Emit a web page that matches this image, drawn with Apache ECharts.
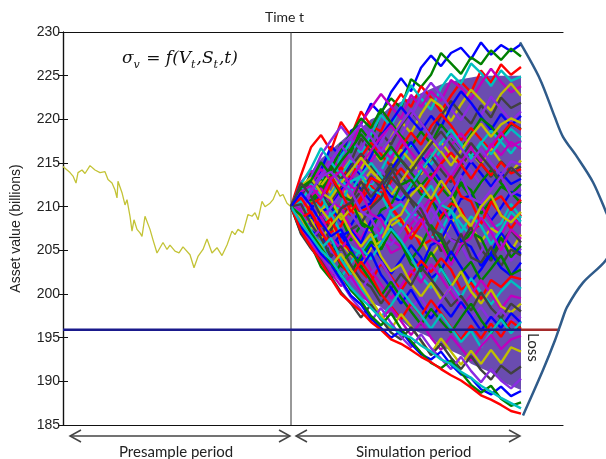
<!DOCTYPE html>
<html>
<head>
<meta charset="utf-8">
<script src="https://cdn.jsdelivr.net/npm/echarts@6/dist/echarts.min.js"></script>
<style>
  html, body { margin: 0; padding: 0; background: #fff; }
  #chart { width: 606px; height: 459px; }
</style>
</head>
<body>
<div id="chart"></div>
<script>
// presample path (yellow)
var presampleT = [0, 1, 7, 10, 13, 15, 19, 22, 27, 32, 37, 42, 45, 49, 52, 54, 55, 59, 62, 64, 67, 69, 71, 74, 77, 79, 82, 84, 87, 90, 94, 97, 100, 104, 107, 112, 116, 120, 127, 131, 135, 140, 144, 149, 154, 159, 164, 169, 172, 175, 180, 185, 189, 192, 195, 199, 202, 207, 210, 214, 217, 220, 224, 228];
var presampleV = [214.6, 214.8, 213.9, 213.5, 212.7, 213.9, 214.2, 213.8, 214.7, 214.2, 213.9, 214.0, 213.1, 212.7, 211.9, 211.0, 212.9, 211.6, 210.2, 210.8, 208.9, 207.2, 208.5, 207.4, 207.0, 206.6, 208.9, 208.7, 207.4, 206.2, 204.7, 205.3, 205.9, 205.1, 205.6, 204.9, 204.7, 205.4, 204.5, 203.0, 204.3, 205.1, 206.3, 204.7, 205.3, 204.4, 205.6, 207.2, 206.8, 207.4, 207.0, 209.1, 208.9, 209.3, 208.5, 210.6, 210.0, 210.4, 210.8, 211.9, 211.2, 211.4, 210.4, 210.0];

// simulation period time steps
var simT = [228, 238, 248, 258, 268, 278, 288, 298, 308, 318, 328, 338, 348, 358, 368, 378, 388, 398, 408, 418, 428, 438, 448, 458];

// dense core of the fan (inner edges)
var bandUpper = [210, 212, 214, 215.5, 216.5, 217.5, 218.5, 219, 220, 220.5, 221.5, 222, 222.5, 223, 223.5, 224, 224.3, 224.6, 224.8, 225, 225, 225, 225, 225];
var bandLower = [210, 207.5, 205.5, 204, 202.5, 201.5, 200.5, 199.5, 199, 198.5, 197.5, 197, 196, 195.5, 195, 194, 193.5, 193, 192, 191.5, 191, 190, 189.5, 189];

// simulated paths (values read/estimated from the fan)
var simPaths = [
  [210, 212.3, 211.6, 214.2, 216.9, 215.8, 218.7, 219.4, 221.8, 220.6, 223.1, 224.7, 223.2, 225.9, 227.3, 226.1, 227.6, 228.2, 226.9, 228.8, 227.4, 228.5, 227.8, 228.6],
  [210, 211.4, 213.8, 212.9, 214.1, 217.3, 216.2, 218.9, 217.5, 220.8, 222.4, 221.3, 224.6, 223.7, 225.1, 227.6, 226.4, 225.2, 227.1, 226.3, 227.9, 226.8, 228.1, 227.2],
  [210, 213.6, 216.8, 218.2, 216.4, 219.7, 218.1, 220.9, 219.3, 218.6, 221.2, 222.9, 221.4, 223.8, 222.5, 220.9, 222.7, 224.3, 223.1, 225.6, 224.2, 226.3, 225.1, 226.0],
  [210, 209.2, 211.7, 213.4, 212.6, 215.8, 217.4, 216.1, 218.3, 220.5, 219.2, 221.6, 223.9, 222.4, 221.1, 223.6, 225.2, 224.1, 226.4, 225.3, 223.8, 225.6, 224.4, 224.9],
  [210, 212.8, 214.1, 213.3, 215.6, 214.2, 216.9, 219.6, 221.3, 222.9, 221.5, 220.1, 222.8, 221.4, 223.2, 222.1, 224.5, 223.6, 222.3, 224.1, 225.8, 224.3, 223.1, 223.8],
  [210, 211.1, 210.4, 212.9, 211.5, 213.8, 215.4, 214.3, 216.7, 215.2, 217.9, 219.8, 218.4, 220.6, 222.3, 221.5, 219.8, 221.7, 223.4, 222.2, 221.0, 222.9, 224.1, 222.7],
  [210, 208.7, 210.9, 212.2, 214.7, 213.1, 215.2, 217.8, 216.3, 218.5, 217.1, 219.3, 220.9, 219.6, 218.2, 220.4, 222.1, 220.7, 219.5, 221.6, 220.2, 222.5, 221.3, 221.9],
  [210, 212.1, 213.4, 215.9, 217.6, 219.2, 217.7, 216.5, 218.9, 217.3, 219.6, 218.1, 220.3, 222.6, 224.2, 222.8, 221.1, 219.9, 221.8, 220.4, 222.6, 221.2, 219.8, 220.9],
  [210, 210.8, 212.6, 211.2, 213.7, 212.4, 214.9, 213.6, 215.8, 218.1, 219.7, 221.4, 220.0, 218.7, 220.4, 219.1, 221.5, 223.2, 221.9, 220.3, 218.8, 220.6, 219.3, 220.4],
  [210, 211.9, 210.7, 212.5, 214.3, 216.6, 218.4, 220.1, 219.0, 221.2, 219.6, 218.1, 216.9, 218.6, 217.2, 219.4, 218.0, 216.6, 218.3, 220.1, 219.2, 217.8, 219.5, 218.9],
  [210, 209.4, 211.3, 210.1, 212.8, 214.5, 213.2, 215.7, 217.3, 216.0, 214.6, 216.8, 218.5, 217.1, 219.2, 220.6, 219.3, 217.6, 219.0, 217.7, 216.4, 218.2, 219.6, 218.8],
  [210, 212.6, 214.4, 216.7, 215.1, 213.6, 215.3, 213.9, 212.4, 214.1, 216.3, 215.0, 217.2, 216.0, 214.8, 216.5, 218.1, 216.9, 215.4, 217.3, 218.7, 217.4, 216.1, 217.6],
  [210, 211.2, 209.9, 208.6, 210.4, 212.1, 211.0, 213.4, 215.2, 216.8, 215.5, 217.7, 216.2, 214.9, 216.6, 215.1, 217.0, 218.4, 216.8, 215.3, 217.2, 215.9, 217.4, 216.6],
  [210, 208.9, 210.6, 212.4, 213.9, 212.3, 210.8, 212.6, 214.1, 212.9, 214.7, 216.5, 215.2, 213.7, 215.6, 217.4, 215.9, 214.5, 216.2, 214.9, 216.7, 215.1, 213.9, 215.3],
  [210, 211.6, 213.2, 212.0, 210.7, 212.4, 214.6, 216.1, 214.7, 213.1, 214.9, 213.5, 212.2, 214.0, 215.8, 214.2, 212.8, 214.6, 216.3, 215.0, 213.4, 215.2, 214.0, 214.6],
  [210, 210.5, 212.0, 213.7, 215.3, 217.0, 215.6, 214.1, 212.7, 214.3, 212.6, 211.3, 213.1, 214.8, 213.4, 212.0, 213.9, 215.5, 214.1, 212.5, 214.3, 212.8, 214.5, 213.7],
  [210, 208.3, 209.7, 211.5, 210.1, 211.9, 213.3, 212.0, 210.6, 212.5, 214.2, 215.9, 217.4, 215.8, 214.5, 212.9, 211.6, 213.4, 215.2, 213.8, 212.3, 213.9, 212.6, 213.2],
  [210, 211.8, 210.3, 211.9, 213.5, 215.2, 216.6, 218.3, 216.9, 215.4, 216.9, 215.3, 213.9, 212.4, 213.8, 212.2, 210.9, 212.6, 211.1, 212.8, 214.2, 212.7, 211.4, 212.6],
  [210, 209.6, 208.2, 206.9, 208.5, 210.3, 209.0, 210.7, 212.4, 211.0, 212.9, 214.4, 213.0, 211.6, 213.3, 214.9, 216.2, 214.8, 213.2, 214.9, 213.6, 215.1, 213.8, 214.3],
  [210, 212.3, 211.0, 209.6, 211.4, 213.1, 211.7, 213.6, 215.0, 213.5, 212.1, 210.7, 212.5, 214.1, 215.7, 217.3, 218.8, 217.2, 215.7, 217.4, 216.0, 217.6, 218.9, 217.9],
  [210, 210.9, 212.7, 214.3, 213.0, 211.5, 213.2, 214.9, 216.4, 218.0, 219.3, 217.8, 216.2, 214.6, 213.1, 214.8, 213.3, 215.1, 216.7, 215.2, 216.9, 218.5, 216.9, 217.5],
  [210, 209.1, 210.8, 209.4, 211.0, 212.7, 214.1, 215.6, 214.2, 212.9, 211.3, 212.9, 214.6, 216.0, 217.6, 216.3, 214.7, 216.4, 218.1, 219.5, 218.0, 219.4, 220.1, 219.6],
  [210, 211.3, 212.9, 211.4, 209.9, 208.6, 210.3, 211.8, 213.5, 212.1, 213.8, 215.4, 214.0, 215.7, 217.2, 218.6, 217.1, 215.6, 217.3, 215.8, 214.4, 212.9, 214.5, 213.4],
  [210, 210.2, 211.8, 213.5, 215.1, 216.9, 218.1, 219.4, 217.9, 216.3, 217.8, 219.5, 221.1, 219.6, 218.0, 216.5, 218.2, 216.7, 215.1, 216.6, 215.0, 213.6, 215.2, 214.8],
  [210, 208.1, 207.6, 209.4, 210.0, 208.3, 207.9, 209.8, 210.4, 212.7, 211.2, 210.6, 211.9, 212.4, 210.8, 209.3, 208.7, 210.9, 211.3, 210.1, 208.4, 209.9, 211.7, 211.2],
  [210, 211.2, 210.7, 212.4, 210.3, 208.8, 206.1, 207.9, 207.3, 209.6, 210.2, 212.5, 213.1, 211.4, 210.9, 208.6, 210.1, 212.8, 211.9, 209.2, 210.7, 212.3, 211.6, 210.4],
  [210, 207.6, 206.9, 205.2, 207.1, 207.8, 210.2, 209.5, 210.0, 211.7, 210.1, 208.3, 207.6, 205.5, 206.2, 208.9, 210.4, 209.7, 207.2, 208.0, 210.6, 209.1, 207.5, 209.1],
  [210, 210.4, 212.6, 211.3, 209.0, 210.2, 212.9, 213.5, 212.0, 211.4, 209.2, 207.8, 209.3, 208.7, 206.4, 207.1, 209.6, 208.0, 206.6, 208.9, 207.4, 208.1, 210.3, 208.7],
  [210, 209.6, 211.3, 212.1, 210.5, 209.9, 207.6, 206.3, 208.5, 206.9, 204.7, 205.3, 208.0, 209.4, 211.1, 210.3, 208.1, 206.5, 207.2, 210.1, 208.3, 206.7, 208.9, 207.8],
  [210, 212.4, 213.3, 211.6, 210.9, 208.5, 209.8, 209.1, 206.9, 205.4, 207.8, 208.6, 207.0, 206.4, 204.3, 205.9, 208.2, 209.1, 207.7, 206.0, 207.5, 206.8, 204.9, 206.8],
  [210, 207.9, 208.6, 207.8, 206.2, 205.0, 207.4, 208.1, 209.9, 211.0, 213.4, 212.1, 210.5, 208.9, 207.6, 204.9, 206.3, 205.8, 207.7, 205.1, 203.8, 205.9, 207.3, 205.9],
  [210, 211.4, 209.1, 208.3, 209.9, 211.5, 209.2, 207.6, 206.9, 208.4, 210.1, 210.6, 209.3, 207.5, 209.8, 208.0, 206.2, 205.6, 203.4, 204.8, 207.2, 205.9, 203.8, 205.2],
  [210, 209.3, 207.2, 206.5, 204.2, 206.6, 207.3, 205.8, 208.4, 209.1, 207.6, 206.0, 204.4, 203.1, 205.6, 206.2, 208.4, 206.1, 205.4, 203.2, 204.7, 207.0, 205.5, 204.6],
  [210, 212.2, 213.0, 215.1, 213.6, 211.2, 210.7, 208.2, 207.5, 205.1, 207.4, 206.0, 203.9, 205.5, 207.9, 206.3, 203.8, 205.4, 207.1, 206.4, 204.0, 206.5, 204.2, 205.5],
  [210, 208.1, 210.3, 211.0, 213.4, 211.7, 209.4, 211.1, 213.3, 212.7, 209.9, 208.5, 206.3, 208.0, 210.4, 211.8, 213.5, 211.2, 210.6, 208.1, 210.5, 211.2, 209.6, 210.8],
  [210, 210.6, 208.3, 207.6, 209.2, 207.0, 205.4, 204.6, 206.3, 207.0, 209.5, 210.3, 208.8, 210.9, 212.4, 210.2, 209.6, 207.1, 208.9, 207.8, 205.7, 207.3, 209.4, 208.3],
  [210, 211.7, 212.4, 210.9, 213.2, 214.1, 212.3, 211.6, 209.2, 208.5, 206.2, 205.4, 207.0, 208.6, 206.3, 205.6, 203.3, 205.7, 206.4, 208.8, 207.1, 205.0, 207.4, 206.3],
  [210, 209.0, 207.4, 209.7, 208.2, 205.9, 204.5, 203.0, 205.3, 206.0, 208.4, 209.1, 211.3, 212.5, 210.9, 213.0, 211.4, 209.2, 207.8, 210.0, 211.3, 209.0, 208.2, 209.4],
  [210, 212.7, 211.2, 208.9, 207.3, 209.8, 210.5, 212.9, 211.1, 212.6, 214.5, 212.3, 210.8, 209.7, 207.4, 206.8, 204.5, 206.9, 204.2, 203.6, 205.4, 203.2, 205.1, 204.4],
  [210, 209.5, 211.8, 213.4, 214.0, 212.6, 211.8, 209.5, 208.7, 206.3, 205.6, 207.2, 208.9, 210.4, 208.1, 210.3, 211.2, 213.6, 211.0, 210.4, 211.9, 213.5, 211.3, 212.0],
  [210, 208.4, 209.1, 206.8, 205.3, 206.9, 204.6, 203.8, 205.7, 204.1, 202.3, 203.9, 205.6, 204.2, 201.8, 202.7, 204.9, 203.1, 201.4, 202.8, 204.6, 203.0, 202.1, 203.6],
  [210, 207.4, 206.1, 204.0, 205.6, 203.2, 202.5, 204.3, 206.0, 205.1, 207.3, 205.8, 203.4, 202.6, 204.8, 203.0, 200.9, 202.4, 203.7, 201.5, 202.9, 204.4, 202.2, 202.8],
  [210, 211.0, 209.3, 207.7, 208.6, 206.0, 204.9, 202.6, 201.4, 203.5, 202.0, 200.4, 202.2, 203.8, 202.5, 204.1, 202.8, 200.5, 201.3, 199.4, 201.6, 200.8, 202.0, 201.7],
  [210, 208.9, 206.7, 205.9, 203.4, 201.9, 203.6, 205.2, 204.0, 205.8, 207.5, 206.1, 204.3, 202.0, 200.7, 202.9, 201.1, 199.6, 201.8, 200.2, 198.8, 200.3, 201.5, 200.6],
  [210, 209.5, 207.8, 208.9, 206.5, 205.1, 206.8, 205.0, 202.7, 201.1, 199.5, 200.9, 202.7, 201.3, 203.4, 201.9, 200.1, 198.4, 199.9, 201.6, 200.0, 198.3, 199.8, 199.5],
  [210, 207.8, 208.5, 206.3, 207.9, 209.2, 207.0, 205.4, 206.9, 204.3, 202.6, 203.4, 201.2, 199.7, 201.3, 199.4, 200.8, 202.6, 200.3, 198.9, 200.5, 198.6, 197.9, 198.9],
  [210, 210.3, 208.0, 206.4, 204.3, 205.5, 203.3, 201.6, 200.8, 198.9, 200.6, 202.3, 201.0, 203.1, 201.7, 200.2, 198.6, 199.8, 198.1, 200.2, 198.4, 197.2, 198.9, 198.0],
  [210, 208.0, 206.3, 207.5, 205.0, 203.8, 201.6, 200.3, 202.4, 203.7, 201.8, 199.9, 198.4, 199.6, 197.7, 199.2, 200.9, 199.1, 197.3, 198.5, 196.8, 198.2, 196.9, 197.4],
  [210, 211.6, 210.1, 208.2, 206.6, 207.4, 205.1, 203.0, 204.7, 202.2, 200.7, 198.9, 200.5, 198.6, 197.2, 198.8, 197.4, 199.1, 197.5, 195.8, 197.4, 196.1, 197.8, 196.7],
  [210, 207.0, 205.6, 203.1, 201.7, 203.5, 204.8, 203.2, 201.5, 199.8, 201.4, 199.6, 198.0, 196.5, 198.3, 196.9, 195.6, 197.3, 198.9, 197.0, 195.5, 197.2, 195.8, 196.2],
  [210, 208.7, 209.4, 207.1, 205.4, 203.5, 201.9, 203.7, 202.1, 200.0, 198.6, 197.1, 198.9, 197.5, 199.3, 197.8, 196.2, 194.8, 196.4, 194.9, 196.6, 195.1, 196.9, 196.0],
  [210, 209.1, 207.3, 205.2, 206.4, 204.0, 202.2, 200.6, 198.8, 197.4, 198.7, 200.5, 199.0, 197.6, 196.0, 197.7, 196.1, 194.5, 195.8, 193.9, 195.6, 197.1, 195.5, 196.8],
  [210, 207.3, 205.8, 204.1, 202.4, 200.9, 202.1, 200.2, 198.7, 197.0, 198.4, 196.9, 195.3, 196.8, 195.0, 193.6, 195.2, 193.8, 192.4, 194.0, 195.3, 193.7, 194.8, 195.2],
  [210, 208.6, 206.9, 205.5, 203.2, 204.6, 202.8, 201.1, 199.3, 197.6, 196.0, 197.7, 196.3, 194.6, 193.2, 194.9, 193.4, 191.9, 193.5, 192.0, 193.6, 192.1, 193.9, 193.4],
  [210, 206.9, 205.2, 203.8, 202.0, 200.2, 198.9, 197.3, 198.8, 197.1, 195.6, 194.8, 196.2, 194.7, 193.0, 194.3, 192.7, 191.4, 192.9, 191.3, 190.2, 191.8, 190.9, 191.7],
  [210, 208.2, 206.1, 204.5, 202.8, 201.4, 199.6, 198.2, 196.9, 198.4, 196.7, 195.1, 193.9, 195.4, 193.8, 192.6, 191.4, 192.8, 191.2, 189.9, 191.4, 190.1, 189.2, 190.3],
  [210, 207.7, 206.3, 204.6, 203.4, 201.6, 199.8, 198.8, 197.2, 196.1, 195.0, 195.8, 194.3, 193.1, 192.5, 193.4, 191.9, 190.8, 190.4, 189.1, 188.5, 189.4, 188.3, 188.9],
  [210, 209.0, 207.0, 205.3, 203.6, 202.3, 200.4, 199.2, 197.5, 196.4, 197.8, 196.0, 194.6, 193.3, 192.1, 191.5, 192.4, 191.0, 189.6, 188.7, 189.5, 188.0, 187.2, 187.6],
  [210, 207.2, 205.4, 203.6, 201.8, 200.0, 199.0, 198.0, 196.8, 195.9, 194.8, 194.3, 193.6, 192.8, 192.2, 191.4, 190.7, 190.1, 189.3, 188.4, 187.9, 187.3, 186.6, 186.3],
  [210, 208.1, 206.6, 205.0, 203.9, 202.2, 200.7, 199.5, 198.4, 197.2, 196.3, 195.4, 195.0, 194.1, 193.4, 192.5, 192.0, 191.1, 190.4, 189.5, 188.8, 188.1, 187.5, 186.9]
];
var pathColors = ['#0000ff', '#008000', '#ff0000', '#00bfbf', '#bf00bf', '#bfbf00', '#404040', '#8a2be2'];

// loss distribution curve drawn sideways at the horizon
var curveT = [457, 477, 492, 500, 514, 530, 543, 553, 543, 520, 504, 499, 492, 480, 460];
var curveV = [228.8, 224.6, 220.2, 218.0, 215.7, 212.8, 209.4, 206.6, 203.9, 201.3, 198.5, 197.0, 194.7, 191.3, 186.1];

var lossLevel = 195.9;
var splitT = 228;
var horizonT = 458;
var lossEndT = 497;

function zip(xs, ys) {
    var out = [];
    for (var i = 0; i < xs.length; i++) out.push([xs[i], ys[i]]);
    return out;
}

var chart = echarts.init(document.getElementById('chart'));

var series = [];

series.push({
    name: 'presample',
    type: 'line',
    data: zip(presampleT, presampleV),
    showSymbol: false,
    lineStyle: { color: '#c3c336', width: 1.3 },
    z: 3
});

// fill under the paths so the fan reads as a solid mass
series.push({
    type: 'custom',
    data: [0],
    silent: true,
    z: 2,
    renderItem: function (params, api) {
        var pts = [];
        for (var i = 0; i < simT.length; i++) pts.push(api.coord([simT[i], bandUpper[i]]));
        for (var j = simT.length - 1; j >= 0; j--) pts.push(api.coord([simT[j], bandLower[j]]));
        return { type: 'polygon', shape: { points: pts }, style: { fill: '#6a4cb0' } };
    }
});

for (var p = 0; p < simPaths.length; p++) {
    series.push({
        type: 'line',
        data: zip(simT, simPaths[p]),
        showSymbol: false,
        lineStyle: { color: pathColors[p % pathColors.length], width: 2.4 },
        z: 3
    });
}

// vertical divider
series.push({
    type: 'line',
    data: [[splitT, 185], [splitT, 230]],
    showSymbol: false,
    lineStyle: { color: '#333', width: 1 },
    z: 4
});

// default threshold
series.push({
    type: 'line',
    data: [[0, lossLevel], [horizonT, lossLevel]],
    showSymbol: false,
    lineStyle: { color: '#1a1a8c', width: 2.5 },
    z: 5
});
series.push({
    type: 'line',
    data: [[horizonT, lossLevel], [lossEndT, lossLevel]],
    showSymbol: false,
    lineStyle: { color: '#a52a2a', width: 2.5 },
    z: 5
});

// distribution, on a wider hidden grid so it can run past the frame
series.push({
    type: 'line',
    xAxisIndex: 2,
    yAxisIndex: 2,
    data: zip(curveT, curveV),
    smooth: 0.3,
    showSymbol: false,
    lineStyle: { color: '#2f5b8a', width: 2.5 },
    z: 6
});

var txt = '#222';

option = {
    animation: false,
    grid: [
        { left: 63, top: 32, width: 500, height: 393 },
        { left: 63, top: 32, width: 543, height: 393 }
    ],
    xAxis: [
        {
            type: 'value', min: 0, max: 500, position: 'bottom',
            axisLine: { lineStyle: { color: '#111', width: 1.2 } },
            axisTick: { show: false }, axisLabel: { show: false }, splitLine: { show: false }
        },
        {
            type: 'value', min: 0, max: 500, position: 'top',
            axisLine: { show: true, lineStyle: { color: '#111', width: 1.2 } },
            axisTick: { show: false }, axisLabel: { show: false }, splitLine: { show: false }
        },
        { type: 'value', gridIndex: 1, min: 0, max: 543, show: false }
    ],
    yAxis: [
        {
            type: 'value', min: 185, max: 230, interval: 5, position: 'left',
            name: 'Asset value (billions)', nameLocation: 'middle', nameGap: 40,
            nameTextStyle: { color: txt, fontSize: 14, fontFamily: 'Liberation Sans' },
            axisLine: { show: true, lineStyle: { color: '#111', width: 1.2 } },
            axisTick: { inside: true, length: 5, lineStyle: { color: '#111' } },
            axisLabel: { color: txt, fontSize: 14, fontFamily: 'Liberation Sans', margin: 3 },
            splitLine: { show: false }
        },
        {
            type: 'value', min: 185, max: 230, interval: 5, position: 'right',
            axisLine: { show: true, lineStyle: { color: '#111', width: 1.2 } },
            axisTick: { inside: true, length: 5, lineStyle: { color: '#111' } },
            axisLabel: { show: false },
            splitLine: { show: false }
        },
        { type: 'value', gridIndex: 1, min: 185, max: 230, show: false }
    ],
    series: series,
    graphic: [
        {
            type: 'text', left: 265, top: 10,
            style: { text: 'Time t', fontSize: 14, fontFamily: 'Lato', fill: txt }
        },
        {
            type: 'text', left: 122, top: 50,
            style: {
                text: '{m|σ}{s|v}{m| = f(V}{s|t}{m|,S}{s|t}{m|,t)}',
                fill: '#111',
                rich: {
                    m: { fontSize: 17, fontStyle: 'italic', fontFamily: 'DejaVu Serif', lineHeight: 24, verticalAlign: 'middle' },
                    s: { fontSize: 11, fontStyle: 'italic', fontFamily: 'DejaVu Serif', lineHeight: 24, verticalAlign: 'bottom', padding: [0, 1, 0, 0] }
                }
            }
        },
        {
            type: 'text', x: 540, y: 333, rotation: -Math.PI / 2,
            style: { text: 'Loss', fontSize: 15, fontFamily: 'Lato', fill: txt }
        },
        // presample arrow
        { type: 'polyline', shape: { points: [[70, 436], [290, 436]] }, style: { stroke: '#444', lineWidth: 1.5 } },
        { type: 'polyline', shape: { points: [[81, 430], [70, 436], [81, 442]] }, style: { stroke: '#444', lineWidth: 1.5, fill: null } },
        { type: 'polyline', shape: { points: [[279, 430], [290, 436], [279, 442]] }, style: { stroke: '#444', lineWidth: 1.5, fill: null } },
        // simulation arrow
        { type: 'polyline', shape: { points: [[296, 436], [520, 436]] }, style: { stroke: '#444', lineWidth: 1.5 } },
        { type: 'polyline', shape: { points: [[307, 430], [296, 436], [307, 442]] }, style: { stroke: '#444', lineWidth: 1.5, fill: null } },
        { type: 'polyline', shape: { points: [[509, 430], [520, 436], [509, 442]] }, style: { stroke: '#444', lineWidth: 1.5, fill: null } },
        {
            type: 'text', left: 119, top: 445,
            style: { text: 'Presample period', fontSize: 15, fontFamily: 'Lato', fill: txt }
        },
        {
            type: 'text', left: 356, top: 445,
            style: { text: 'Simulation period', fontSize: 15, fontFamily: 'Lato', fill: txt }
        }
    ]
};

chart.setOption(option);
</script>
</body>
</html>
